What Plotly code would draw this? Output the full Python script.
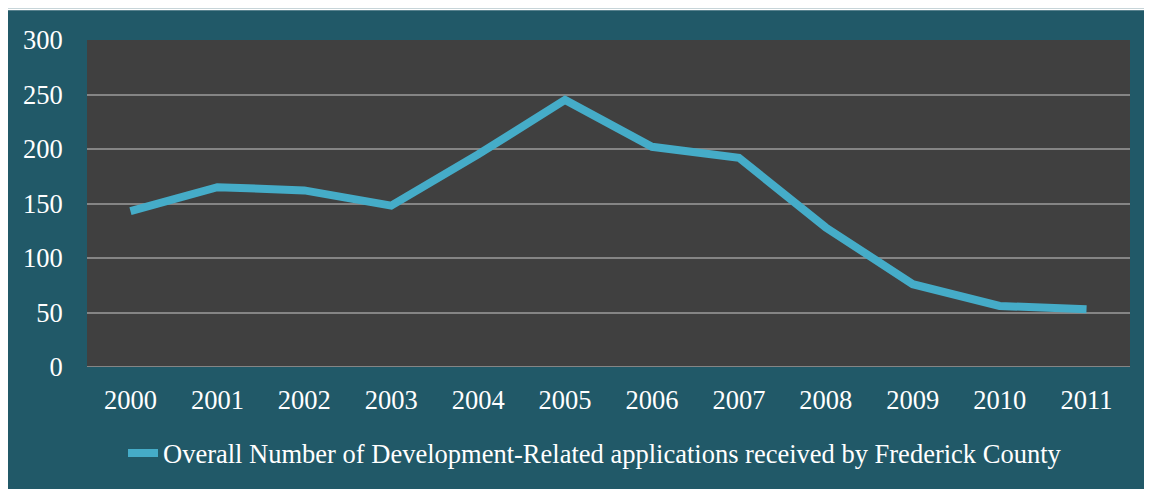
import plotly.graph_objects as go

years = ["2000", "2001", "2002", "2003", "2004", "2005",
         "2006", "2007", "2008", "2009", "2010", "2011"]
applications = [143, 165, 162, 148, 195, 245, 202, 192, 128, 76, 56, 53]
series_name = "Overall Number of Development-Related applications received by Frederick County"
y_ticks = [0, 50, 100, 150, 200, 250, 300]

# page body adds an 8px margin, so the figure itself starts at (8, 8)
W, H = 1144, 481
L, R, T, B = 79, 22, 32, 119
pw, ph = W - L - R, H - T - B

TEAL = "#215968"
PLOT_BG = "#404040"
LINE = "#45acc8"
GRID = "#858585"
FONT = "Liberation Serif, Times New Roman, serif"

fig = go.Figure()
fig.add_trace(go.Scatter(
    x=years, y=applications, mode="lines", name=series_name,
    line=dict(color=LINE, width=8),
))

# thin white strip along the top edge
fig.add_shape(type="rect", xref="paper", yref="paper", layer="above",
              x0=-L / pw, x1=1 + R / pw, y0=1 + (T - 2) / ph, y1=1 + T / ph,
              fillcolor="white", line_width=0)

fig.update_layout(
    width=W, height=H,
    margin=dict(l=L, r=R, t=T, b=B, pad=0),
    paper_bgcolor=TEAL,
    plot_bgcolor=PLOT_BG,
    font=dict(family=FONT, size=26.5, color="white"),
    showlegend=True,
    legend=dict(
        orientation="h", x=36 / pw, xanchor="left",
        y=-(457 - 370) / ph, yanchor="middle",
        bgcolor="rgba(0,0,0,0)", font=dict(size=26.5, color="white"),
    ),
)
fig.update_xaxes(
    type="category", range=[-0.5, 11.5], showgrid=False, zeroline=False,
    showline=False, ticks="outside", ticklen=9, tickcolor="rgba(0,0,0,0)",
)
fig.update_yaxes(
    range=[0, 300], tickvals=y_ticks, showgrid=True, gridcolor=GRID, gridwidth=2,
    zeroline=False, showline=False, ticks="outside", ticklen=18,
    tickcolor="rgba(0,0,0,0)",
)
fig.add_hline(y=0, line=dict(color=GRID, width=2))

fig.write_html("out.html")
